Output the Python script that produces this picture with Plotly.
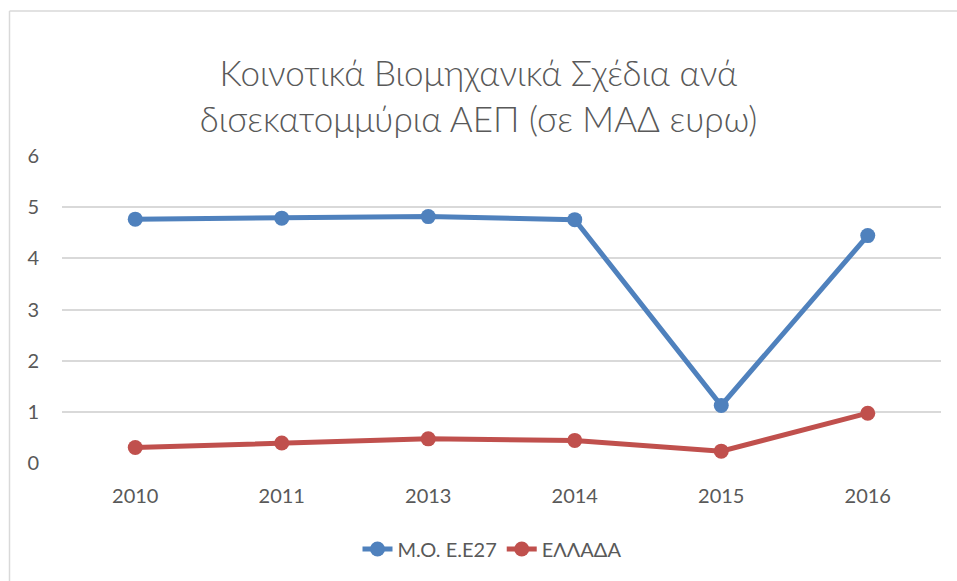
import plotly.graph_objects as go

years = ["2010", "2011", "2013", "2014", "2015", "2016"]
eu27 = [4.76, 4.78, 4.81, 4.75, 1.13, 4.44]
greece = [0.31, 0.40, 0.48, 0.45, 0.24, 0.98]
y_ticks = [0, 1, 2, 3, 4, 5, 6]

W, H = 957, 581
L, R, T, B = 62, 16, 155, 117
pw, ph = W - L - R, H - T - B

def xp(px):
    return (px - L) / pw

def yp(py):
    return (H - B - py) / ph

FONT = "Lato"
GREY = "#595959"

fig = go.Figure()
fig.add_trace(go.Scatter(x=years, y=eu27, name="Μ.Ο. Ε.Ε27", mode="lines+markers",
                         line=dict(color="#4F81BD", width=5),
                         marker=dict(size=15, color="#4F81BD")))
fig.add_trace(go.Scatter(x=years, y=greece, name="ΕΛΛΑΔΑ", mode="lines+markers",
                         line=dict(color="#C0504D", width=5),
                         marker=dict(size=15, color="#C0504D")))

fig.update_layout(
    width=W, height=H,
    margin=dict(l=L, r=R, t=T, b=B),
    paper_bgcolor="white", plot_bgcolor="white",
    font=dict(family=FONT, color=GREY, size=20),
    title=dict(text="Κοινοτικά Βιομηχανικά Σχέδια ανά<br>δισεκατομμύρια ΑΕΠ (σε ΜΑΔ ευρω)",
               x=0.5, xanchor="center", y=1 - 86 / H, yanchor="middle",
               font=dict(family=FONT, size=35, color=GREY, weight=300)),
    xaxis=dict(type="category", showgrid=False, showline=False, zeroline=False,
               ticks="", ticklabelstandoff=18, tickfont=dict(size=20, color=GREY),
               range=[-0.5, 5.5]),
    yaxis=dict(range=[-0.01, 6.01], tickvals=y_ticks, showgrid=True, gridcolor="#D9D9D9",
               gridwidth=1.5, zeroline=False, showline=False, ticks="",
               ticklabelstandoff=22, tickfont=dict(size=20, color=GREY)),
    legend=dict(orientation="h", x=xp(492), xanchor="center", y=yp(549), yanchor="middle",
                font=dict(size=20, color=GREY), tracegroupgap=0),
    showlegend=True,
    shapes=[
        dict(type="line", xref="paper", yref="paper", x0=xp(9.5), x1=xp(9.5), y0=yp(11), y1=yp(H + 5),
             line=dict(color="#D9D9D9", width=1.5)),
        dict(type="line", xref="paper", yref="paper", x0=xp(9.5), x1=xp(W + 5), y0=yp(11), y1=yp(11),
             line=dict(color="#D9D9D9", width=1.5)),
    ],
)

fig.write_html("out.html", config={"displayModeBar": False},
               post_script="document.body.style.margin='0';")
